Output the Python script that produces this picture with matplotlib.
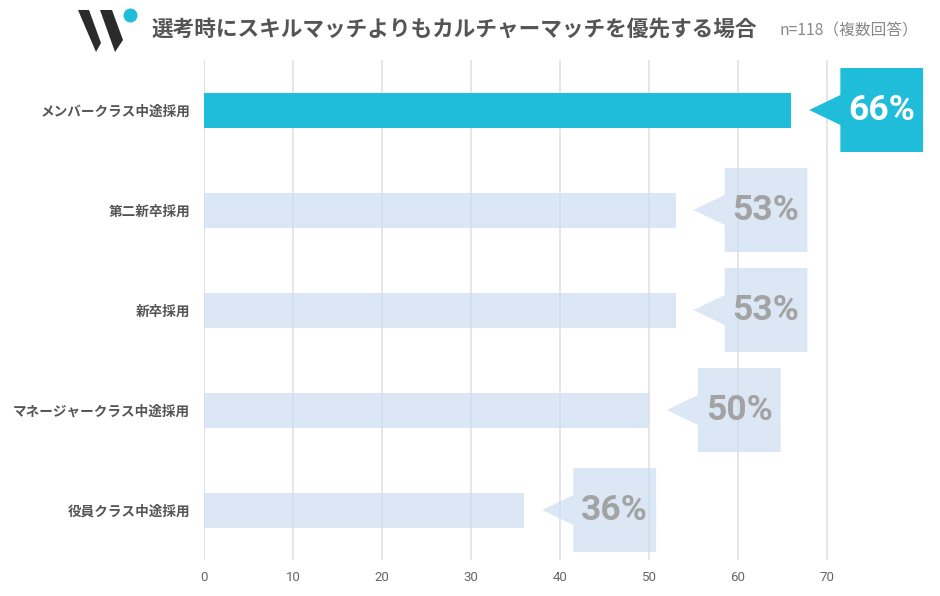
import matplotlib
matplotlib.use("Agg")
import matplotlib.pyplot as plt
from matplotlib.patches import Polygon, Circle

plt.rcParams['font.family'] = ['Noto Sans CJK JP', 'DejaVu Sans']

categories = ["メンバークラス中途採用", "第二新卒採用", "新卒採用", "マネージャークラス中途採用", "役員クラス中途採用"]
values = [66, 53, 53, 50, 36]
highlight = [True, False, False, False, False]
xticks = [0, 10, 20, 30, 40, 50, 60, 70]
title = "選考時にスキルマッチよりもカルチャーマッチを優先する場合"
subtitle = "n=118（複数回答）"

W, H = 940, 596
fig = plt.figure(figsize=(W / 100, H / 100), dpi=100)
fig.patch.set_facecolor("white")

ax = fig.add_axes([204 / W, (H - 560) / H, 712 / W, 500 / H])
ax.set_xlim(0, 80)
ax.set_ylim(len(categories) - 0.5, -0.5)

HI = "#20BDDA"
LIGHT = (0.80, 0.87, 0.95, 0.7)

for x in xticks:
    ax.axvline(x, color="#E2E2E2" if x else "#D8D8D8", lw=1.2, zorder=1)

for i, (v, h) in enumerate(zip(values, highlight)):
    col = HI if h else LIGHT
    ax.barh(i, v, height=0.35, color=col, zorder=3 if h else 2, linewidth=0)
    # callout
    tip = v + 2.0
    bl = v + 5.5
    br = v + 14.8
    bh = 0.42
    ah = 0.15
    poly = Polygon([(tip, i), (bl, i - ah), (bl, i - bh), (br, i - bh),
                    (br, i + bh), (bl, i + bh), (bl, i + ah)],
                   closed=True, facecolor=col, edgecolor="none",
                   zorder=3 if h else 2, clip_on=False)
    ax.add_patch(poly)
    ax.text((bl + br) / 2, i + 0.01, f"{v}%", ha="center", va="center",
            fontsize=25.5, fontweight="bold", family=["Roboto", "DejaVu Sans"],
            color="white" if h else "#A3A3A3", zorder=4)

ax.set_yticks(range(len(categories)))
ax.set_yticklabels(categories, fontsize=9.8, fontweight="bold", color="#555555")
ax.set_xticks(xticks)
ax.set_xticklabels([str(t) for t in xticks], fontsize=9.5, color="#666666",
                   family=["Roboto", "DejaVu Sans"])
ax.tick_params(axis="y", length=0, pad=10)
ax.tick_params(axis="x", length=0, pad=8)
for s in ax.spines.values():
    s.set_visible(False)
ax.set_facecolor("none")

# header overlay in pixel coordinates
hx = fig.add_axes([0, 0, 1, 1])
hx.set_xlim(0, W)
hx.set_ylim(H, 0)
hx.axis("off")
hx.patch.set_alpha(0)
hx.add_patch(Polygon([(78, 10), (89, 10), (101, 43), (96, 52)], closed=True,
                     facecolor="#2B2B2B", edgecolor="none"))
hx.add_patch(Polygon([(100, 10), (112, 10), (123, 40), (115, 52)], closed=True,
                     facecolor="#2B2B2B", edgecolor="none"))
hx.add_patch(Circle((130.5, 15.5), 7, facecolor=HI, edgecolor="none"))
hx.text(152, 29, title, ha="left", va="center", fontsize=15.6,
        fontweight="bold", color="#555555")
hx.text(918, 31, subtitle, ha="right", va="center", fontsize=11.3,
        color="#888888")

fig.savefig("out.png", dpi=100, facecolor="white")
